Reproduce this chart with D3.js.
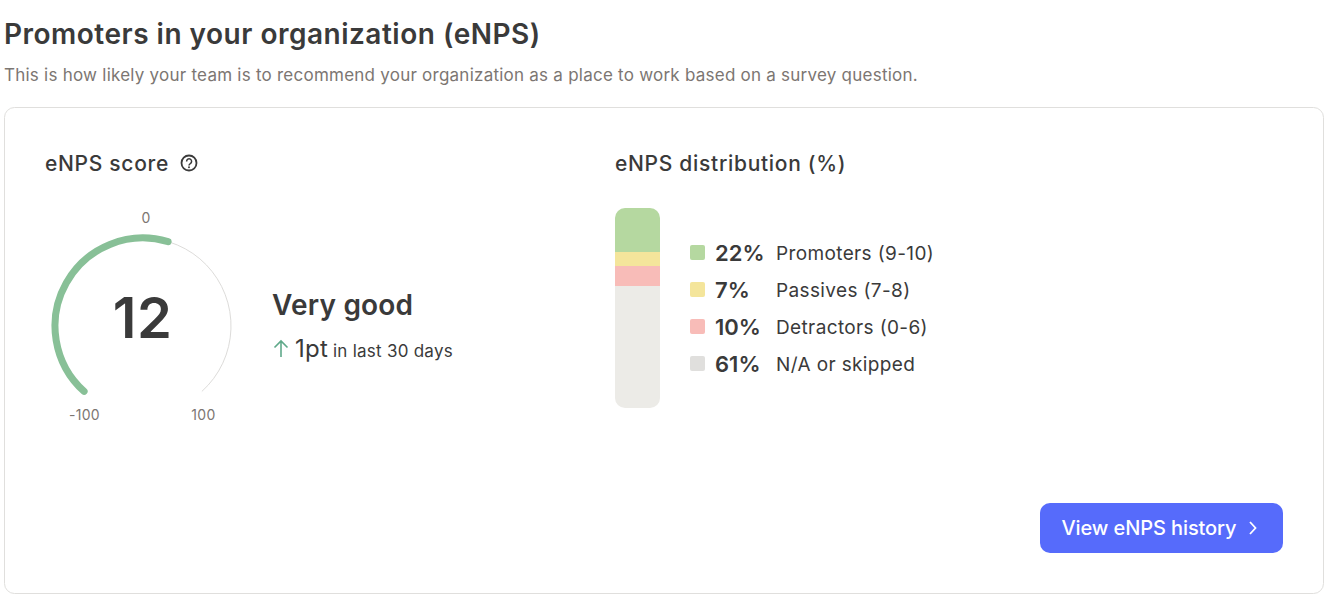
<!DOCTYPE html>
<html><head><meta charset="utf-8">
<script src="https://cdn.jsdelivr.net/npm/d3@7/dist/d3.min.js"></script>
<style>html,body{margin:0;padding:0;background:#fff}svg{display:block;font-family:Inter,sans-serif}</style>
</head><body><svg id="c" width="1325" height="597"></svg>
<script>
const categories = ["Promoters (9-10)", "Passives (7-8)", "Detractors (0-6)", "N/A or skipped"];
const shares = [22, 7, 10, 61];
const barColors = ["#b5d8a0", "#f4e59b", "#f8bcb8", "#ecebe7"];
const swatchColors = ["#b5d8a0", "#f4e59b", "#f8bcb8", "#e0dfdd"];
const gaugeTicks = [-100, 0, 100];
const score = 12;

const dark = "#3a3a3a", grey = "#7c7672";
const svg = d3.select("#c");
const text = (x, y, s, size, weight, fill, anchor, ls) => svg.append("text")
  .attr("x", x).attr("y", y).attr("font-size", size).attr("font-weight", weight)
  .attr("letter-spacing", ls || 0)
  .attr("fill", fill).attr("text-anchor", anchor || "start").text(s);

text(4, 44, "Promoters in your organization (eNPS)", 28, 600, dark, "start", 0.5);
text(4, 81, "This is how likely your team is to recommend your organization as a place to work based on a survey question.", 17, 400, grey, "start", 0.24);
svg.append("rect").attr("x", 4.5).attr("y", 107.5).attr("width", 1319).attr("height", 486)
  .attr("rx", 10).attr("fill", "#fff").attr("stroke", "#e0dfdd");

text(45, 171, "eNPS score", 21, 500, dark, "start", 0.7);
const help = svg.append("g").attr("transform", "translate(189,163)");
help.append("circle").attr("r", 7.5).attr("fill", "none").attr("stroke", dark).attr("stroke-width", 1.8);
help.append("path").attr("d", "M-2.4-1.6a2.5 2.5 0 1 1 3.8 2.1c-.9.6-1.4 1-1.4 1.9").attr("fill", "none").attr("stroke", dark).attr("stroke-width", 1.5);
help.append("circle").attr("cy", 4.3).attr("r", 0.95).attr("fill", dark);

// gauge
const angle = d3.scaleLinear().domain([-100, 100]).range([-138, 138].map(d => d * Math.PI / 180));
const cx = 143, cy = 326, r = 88;
const g = svg.append("g").attr("transform", `translate(${cx},${cy})`);
const arcPath = (from, to) => {
  const p = d3.path();
  p.arc(0, 0, r, angle(from) - Math.PI / 2, angle(to) - Math.PI / 2);
  return p.toString();
};
g.append("path").attr("d", arcPath(-100, 100)).attr("fill", "none").attr("stroke", "#dddcda").attr("stroke-width", 1);
g.append("path").attr("d", arcPath(-100, score)).attr("fill", "none").attr("stroke", "#88c097").attr("stroke-width", 7).attr("stroke-linecap", "round");
const tickPos = {"-100": [84.5, 420], "0": [146, 223], "100": [203.5, 420]};
gaugeTicks.forEach(t => text(tickPos[t][0], tickPos[t][1], t, 14, 400, grey, "middle", 0.3));
text(142.5, 338, score, 56, 600, dark, "middle", 0.5);

text(272, 315, "Very good", 28, 600, dark, "start", 0.2);
svg.append("path").attr("d", "M281 357V341M274.5 347.5L281 341L287.5 347.5").attr("fill", "none").attr("stroke", "#5fa98a").attr("stroke-width", 1.6);
text(295, 357, "1pt", 24, 400, dark, "start", 0.3);
text(333, 357, "in last 30 days", 17, 400, dark, "start", 0.25);

// distribution
text(615, 171, "eNPS distribution (%)", 21, 500, dark, "start", 0.7);
const y = d3.scaleLinear().domain([0, 100]).range([208, 408]);
const stack = d3.cumsum(shares);
const clip = svg.append("clipPath").attr("id", "barclip");
clip.append("rect").attr("x", 615).attr("y", y(0)).attr("width", 45).attr("height", y(100) - y(0)).attr("rx", 10);
svg.append("g").attr("clip-path", "url(#barclip)").selectAll("rect").data(shares).join("rect")
  .attr("x", 615).attr("width", 45)
  .attr("y", (d, i) => y(stack[i] - d)).attr("height", d => y(d) - y(0))
  .attr("fill", (d, i) => barColors[i]);

const rowY = d3.scalePoint().domain(categories).range([253, 364]);
categories.forEach((c, i) => {
  const ry = rowY(c);
  svg.append("rect").attr("x", 690).attr("y", ry - 8).attr("width", 15).attr("height", 15).attr("rx", 2).attr("fill", swatchColors[i]);
  text(715, ry + 8, shares[i] + "%", 22, 600, dark, "start", 0);
  text(776, ry + 7, c, 19, 400, dark, "start", 0.37);
});

// button
svg.append("rect").attr("x", 1040).attr("y", 503).attr("width", 243).attr("height", 50).attr("rx", 10).attr("fill", "#566bfb");
text(1061.5, 535, "View eNPS history", 20, 500, "#fff", "start", -0.1);
svg.append("path").attr("d", "M1250 522L1255.5 528L1250 534").attr("fill", "none").attr("stroke", "#fff").attr("stroke-width", 1.8);
</script></body></html>
